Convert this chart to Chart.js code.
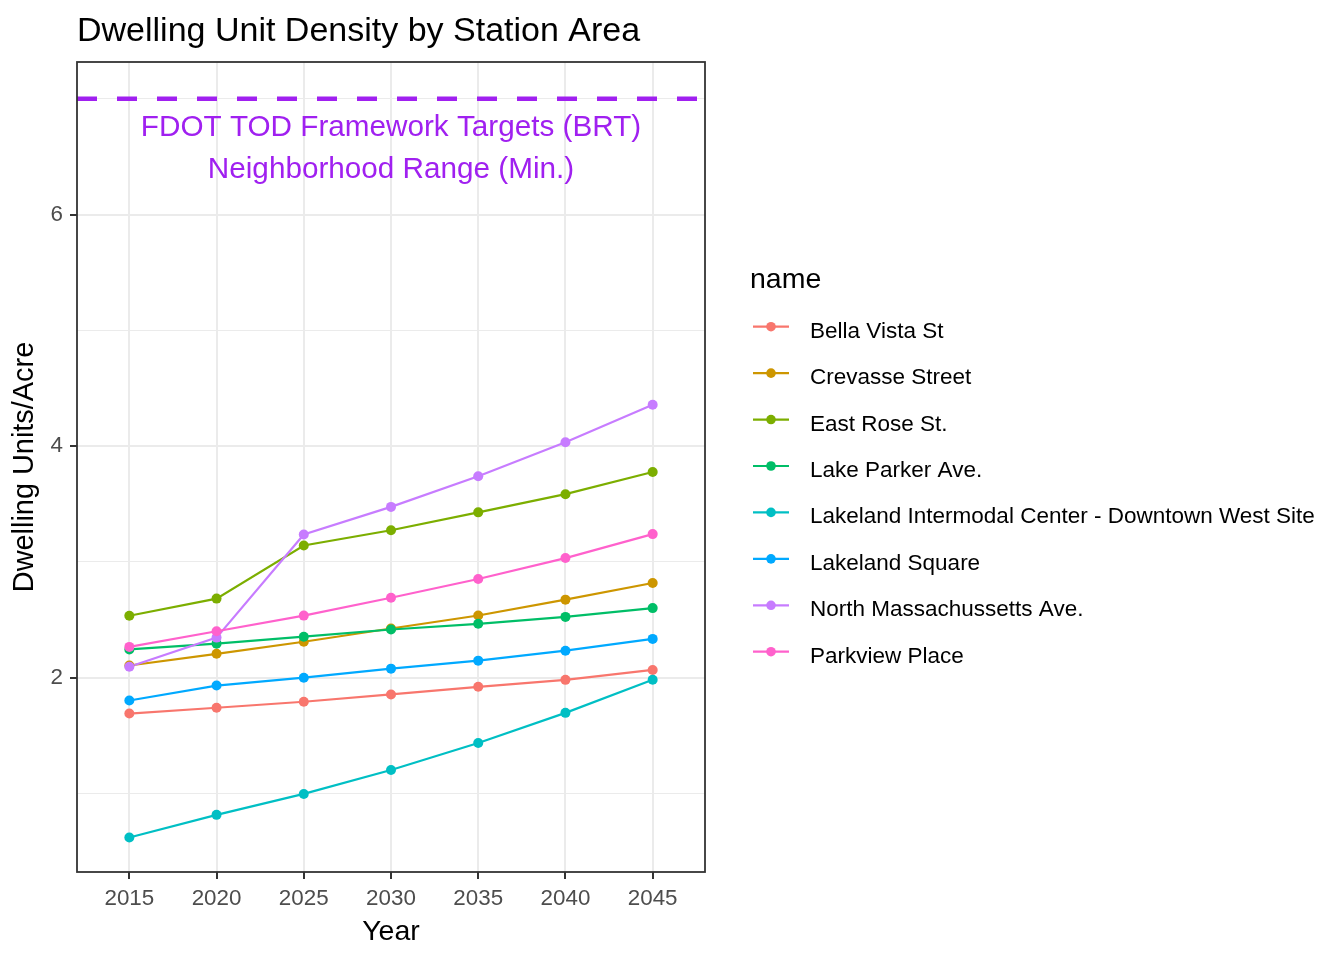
<!DOCTYPE html>
<html><head><meta charset="utf-8">
<script src="https://cdn.jsdelivr.net/npm/chart.js@4.4.1/dist/chart.umd.min.js"></script>
<style>html,body{margin:0;padding:0;background:#fff;}#wrap{width:1344px;height:960px;}</style>
</head><body><div id="wrap"><canvas id="c" width="1344" height="960"></canvas></div>
<script>
// ---- data ----
const years = [2015, 2020, 2025, 2030, 2035, 2040, 2045];
const seriesNames = ["Bella Vista St", "Crevasse Street", "East Rose St.", "Lake Parker Ave.",
  "Lakeland Intermodal Center - Downtown West Site", "Lakeland Square", "North Massachussetts Ave.", "Parkview Place"];
const bellaVista     = [1.690, 1.740, 1.792, 1.855, 1.921, 1.981, 2.067];
const crevasse       = [2.105, 2.206, 2.310, 2.425, 2.537, 2.674, 2.818];
const eastRose       = [2.535, 2.683, 3.142, 3.273, 3.428, 3.585, 3.776];
const lakeParker     = [2.244, 2.294, 2.354, 2.416, 2.465, 2.525, 2.601];
const intermodal     = [0.620, 0.815, 0.996, 1.203, 1.436, 1.696, 1.982];
const lakelandSquare = [1.803, 1.932, 2.000, 2.078, 2.147, 2.233, 2.335];
const northMass      = [2.095, 2.346, 3.237, 3.475, 3.739, 4.034, 4.358];
const parkview       = [2.266, 2.401, 2.536, 2.690, 2.852, 3.033, 3.240];
const seriesColors = ["#F8766D", "#CD9600", "#7CAE00", "#00BE67", "#00BFC4", "#00A9FF", "#C77CFF", "#FF61CC"];
const yLabelTicks = [2, 4, 6];
const yGridTicks = [1, 2, 3, 4, 5, 6, 7];
const targetValue = 7;
const targetLabels = ["FDOT TOD Framework Targets (BRT)", "Neighborhood Range (Min.)"];
const targetLabelY = [6.68, 6.318];
const chartTitle = "Dwelling Unit Density by Station Area";
const xTitle = "Year";
const yTitle = "Dwelling Units/Acre";
const legendTitle = "name";

const allSeries = [bellaVista, crevasse, eastRose, lakeParker, intermodal, lakelandSquare, northMass, parkview];
const FONT = "'Liberation Sans', Arial, Helvetica, sans-serif";
const PURPLE = "#A020F0";

const datasets = [];
allSeries.forEach((vals, i) => {
  datasets.push({
    label: seriesNames[i],
    data: years.map((yr, j) => ({x: yr, y: vals[j]})),
    borderColor: seriesColors[i], backgroundColor: seriesColors[i],
    borderWidth: 2.2, pointRadius: 0, pointHoverRadius: 0, tension: 0, order: 100 - i
  });
});
allSeries.forEach((vals, i) => {
  datasets.push({
    label: seriesNames[i] + " points",
    data: years.map((yr, j) => ({x: yr, y: vals[j]})),
    showLine: false, borderColor: seriesColors[i], backgroundColor: seriesColors[i],
    pointRadius: 5, pointBorderWidth: 0, pointBackgroundColor: seriesColors[i], order: 50 - i
  });
});

const decor = {
  id: 'decor',
  afterDatasetsDraw(chart) {
    const ctx = chart.ctx, a = chart.chartArea;
    const xs = chart.scales.x, ys = chart.scales.y;
    ctx.save();
    const ty = ys.getPixelForValue(targetValue);
    ctx.beginPath();
    ctx.rect(a.left, a.top, a.right - a.left, a.bottom - a.top);
    ctx.clip();
    ctx.strokeStyle = PURPLE; ctx.lineWidth = 4.7; ctx.setLineDash([20, 20]); ctx.lineCap = 'butt';
    ctx.beginPath(); ctx.moveTo(a.left, ty); ctx.lineTo(a.right, ty); ctx.stroke();
    ctx.setLineDash([]);
    ctx.fillStyle = PURPLE; ctx.font = "29.7px " + FONT; ctx.textAlign = 'center'; ctx.textBaseline = 'alphabetic';
    const cx = xs.getPixelForValue((years[0] + years[years.length - 1]) / 2);
    targetLabels.forEach((t, i) => ctx.fillText(t, cx, ys.getPixelForValue(targetLabelY[i])));
    ctx.restore();
  },
  afterDraw(chart) {
    const ctx = chart.ctx, a = chart.chartArea;
    ctx.save();
    ctx.strokeStyle = "#333333"; ctx.lineWidth = 1.8;
    ctx.strokeRect(a.left, a.top, a.right - a.left, a.bottom - a.top);
    ctx.fillStyle = "#000"; ctx.font = "34px " + FONT; ctx.textAlign = 'left'; ctx.textBaseline = 'alphabetic';
    ctx.fillText(chartTitle, a.left, 41);
    ctx.font = "28.5px " + FONT; ctx.textAlign = 'center';
    ctx.fillText(xTitle, (a.left + a.right) / 2, 940);
    ctx.save();
    ctx.translate(33, (a.top + a.bottom) / 2);
    ctx.rotate(-Math.PI / 2);
    ctx.font = "28.9px " + FONT;
    ctx.fillText(yTitle, 0, 0);
    ctx.restore();
    ctx.textAlign = 'left';
    ctx.font = "28.5px " + FONT;
    ctx.fillText(legendTitle, 750, 288);
    ctx.font = "22.5px " + FONT;
    seriesNames.forEach((name, i) => {
      const yc = 326.7 + i * 46.43;
      ctx.strokeStyle = seriesColors[i]; ctx.lineWidth = 2.2;
      ctx.beginPath(); ctx.moveTo(753, yc); ctx.lineTo(789, yc); ctx.stroke();
      ctx.fillStyle = seriesColors[i];
      ctx.beginPath(); ctx.arc(771, yc, 4.8, 0, Math.PI * 2); ctx.fill();
      ctx.fillStyle = "#000";
      ctx.fillText(name, 810, yc + 11);
    });
    ctx.restore();
  }
};

new Chart(document.getElementById('c'), {
  type: 'line',
  data: {datasets},
  plugins: [decor],
  options: {
    responsive: false, animation: false, devicePixelRatio: 1,
    layout: {padding: {left: 0, top: 62, right: 639, bottom: 0}},
    plugins: {legend: {display: false}, title: {display: false}, tooltip: {enabled: false}},
    scales: {
      x: {
        type: 'linear', min: 2012, max: 2048,
        afterBuildTicks: s => { s.ticks = years.map(v => ({value: v})); },
        afterFit: s => { s.height = 88; },
        border: {display: false},
        grid: {color: "#EBEBEB", lineWidth: 2, tickLength: 7, tickColor: "#333333", tickWidth: 2, drawTicks: true},
        ticks: {color: "#4D4D4D", font: {family: FONT, size: 22.4}, padding: 6, maxRotation: 0, autoSkip: false,
          callback: v => String(v)}
      },
      y: {
        type: 'linear', min: 0.3216, max: 7.3176,
        afterBuildTicks: s => { s.ticks = yGridTicks.map(v => ({value: v})); },
        afterFit: s => { s.width = 77; },
        border: {display: false},
        grid: {
          color: "#EBEBEB",
          lineWidth: c => yLabelTicks.includes(c.tick && c.tick.value) ? 2 : 1,
          tickLength: 7,
          tickColor: c => yLabelTicks.includes(c.tick && c.tick.value) ? "#333333" : "rgba(0,0,0,0)",
          tickWidth: 2, drawTicks: true
        },
        ticks: {color: "#4D4D4D", font: {family: FONT, size: 22.4}, padding: 7, autoSkip: false,
          callback: v => yLabelTicks.includes(v) ? String(v) : ""}
      }
    }
  }
});
</script></body></html>
